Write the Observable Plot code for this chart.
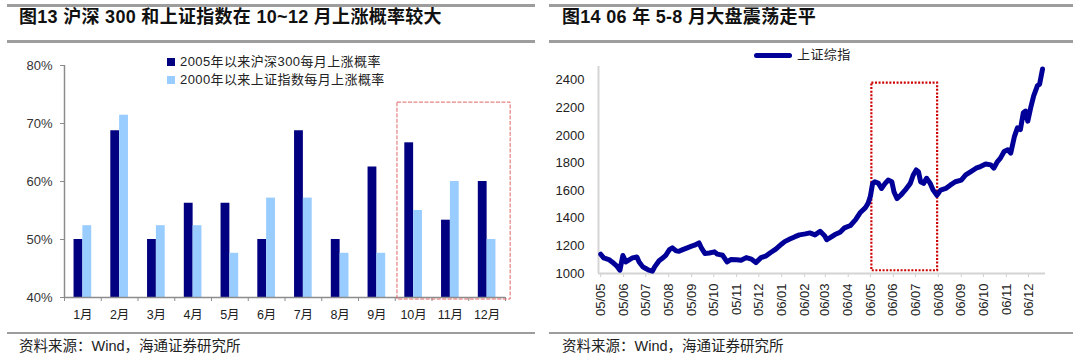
<!DOCTYPE html>
<html><head><meta charset="utf-8">
<script src="https://cdn.jsdelivr.net/npm/d3@7"></script>
<script src="https://cdn.jsdelivr.net/npm/@observablehq/plot@0.6"></script>
<style>
body{margin:0;background:#fff;width:1080px;height:355px;position:relative;overflow:hidden;font-family:"Liberation Sans","Noto Sans CJK SC",sans-serif;color:#222;}
.rule{position:absolute;background:#9d9d9d;}
.title{position:absolute;font-weight:bold;font-size:18px;letter-spacing:0.3px;line-height:20px;color:#111;white-space:nowrap;}
.src{position:absolute;font-size:14.5px;line-height:18px;color:#222;white-space:nowrap;}
.chart{position:absolute;}
.leg{position:absolute;font-size:13px;letter-spacing:0.4px;line-height:16px;color:#222;white-space:nowrap;font-family:"Liberation Sans","Noto Sans CJK SC",sans-serif;}
.sw{position:absolute;}
</style></head>
<body>
<div class="rule" style="left:7px;top:4px;width:528px;height:2.5px"></div>
<div class="title" style="left:19px;top:7px">图13 沪深 300 和上证指数在 10~12 月上涨概率较大</div>
<div class="rule" style="left:7px;top:40px;width:528px;height:2.5px"></div>
<div id="c1" class="chart" style="left:0;top:45px"></div>
<div class="sw" style="left:167px;top:58px;width:8px;height:8px;background:#000080"></div>
<div class="leg" style="left:180px;top:54px">2005年以来沪深300每月上涨概率</div>
<div class="sw" style="left:167px;top:76px;width:8px;height:8px;background:#99ccff"></div>
<div class="leg" style="left:180px;top:72px">2000年以来上证指数每月上涨概率</div>
<div class="rule" style="left:7px;top:332px;width:528px;height:2px"></div>
<div class="src" style="left:19px;top:337px">资料来源：Wind，海通证券研究所</div>

<div class="rule" style="left:549px;top:4px;width:524px;height:2.5px"></div>
<div class="title" style="left:562px;top:7px">图14 06 年 5-8 月大盘震荡走平</div>
<div class="rule" style="left:549px;top:40px;width:524px;height:2.5px"></div>
<div id="c2" class="chart" style="left:540px;top:45px"></div>
<div class="sw" style="left:754px;top:53px;width:38px;height:5px;border-radius:3px;background:#000099"></div>
<div class="leg" style="left:797px;top:47px">上证综指</div>
<div class="rule" style="left:549px;top:332px;width:524px;height:2px"></div>
<div class="src" style="left:562px;top:337px">资料来源：Wind，海通证券研究所</div>

<script>
// ---------- Chart 1 data ----------
const months = ["1月","2月","3月","4月","5月","6月","7月","8月","9月","10月","11月","12月"];
const hs300UpRate = [50, 68.75, 50, 56.25, 56.25, 50, 68.75, 50, 62.5, 66.67, 53.33, 60];
const szUpRate = [52.38, 71.43, 52.38, 52.38, 47.62, 57.14, 57.14, 47.62, 47.62, 55, 60, 50];
const pctTicks = [40, 50, 60, 70, 80];

// ---------- Chart 2 data ----------
const szDates = ["2005-05-01","2005-05-05","2005-05-12","2005-05-19","2005-05-23","2005-05-27","2005-05-31","2005-06-04","2005-06-09","2005-06-13","2005-06-19","2005-06-22","2005-06-27","2005-07-01","2005-07-05","2005-07-10","2005-07-13","2005-07-19","2005-07-23","2005-07-28","2005-08-02","2005-08-06","2005-08-11","2005-08-15","2005-08-20","2005-08-27","2005-09-01","2005-09-05","2005-09-11","2005-09-14","2005-09-19","2005-09-25","2005-10-02","2005-10-06","2005-10-13","2005-10-19","2005-10-24","2005-11-01","2005-11-07","2005-11-14","2005-11-21","2005-11-27","2005-12-04","2005-12-11","2005-12-17","2005-12-24","2006-01-01","2006-01-05","2006-01-12","2006-01-19","2006-01-25","2006-02-02","2006-02-08","2006-02-15","2006-02-22","2006-02-28","2006-03-03","2006-03-07","2006-03-14","2006-03-21","2006-03-27","2006-04-04","2006-04-11","2006-04-17","2006-04-24","2006-04-28","2006-05-01","2006-05-04","2006-05-07","2006-05-12","2006-05-16","2006-05-21","2006-05-25","2006-05-30","2006-06-02","2006-06-06","2006-06-11","2006-06-17","2006-06-24","2006-06-28","2006-07-02","2006-07-05","2006-07-08","2006-07-12","2006-07-16","2006-07-21","2006-07-25","2006-07-30","2006-08-04","2006-08-11","2006-08-17","2006-08-24","2006-09-01","2006-09-07","2006-09-14","2006-09-21","2006-09-27","2006-10-04","2006-10-11","2006-10-15","2006-10-20","2006-10-24","2006-10-29","2006-11-03","2006-11-07","2006-11-12","2006-11-16","2006-11-20","2006-11-24","2006-11-27","2006-11-30","2006-12-04","2006-12-08","2006-12-13","2006-12-16","2006-12-20"];
const szValues = [1140,1113,1101,1072,1053,1024,1130,1084,1101,1113,1120,1084,1048,1036,1024,1017,1048,1092,1108,1132,1173,1186,1164,1161,1173,1188,1198,1205,1222,1188,1145,1149,1157,1140,1132,1084,1101,1100,1096,1115,1104,1079,1115,1128,1152,1177,1214,1231,1250,1267,1280,1287,1294,1280,1306,1274,1245,1258,1282,1299,1331,1348,1390,1440,1475,1510,1560,1653,1665,1653,1616,1653,1677,1665,1591,1543,1567,1604,1653,1714,1750,1738,1665,1653,1690,1653,1604,1567,1604,1616,1640,1665,1677,1714,1738,1763,1775,1794,1787,1763,1811,1836,1884,1897,1873,1994,2055,2043,2165,2177,2104,2202,2287,2360,2372,2482];
const szTicks = [1000,1200,1400,1600,1800,2000,2200,2400];
const monthTickDates = ["2005-05","2005-06","2005-07","2005-08","2005-09","2005-10","2005-11","2005-12","2006-01","2006-02","2006-03","2006-04","2006-05","2006-06","2006-07","2006-08","2006-09","2006-10","2006-11","2006-12"];
const highlightPeriod = ["2006-05-03","2006-07-31"];

const font = '"Liberation Sans","Noto Sans CJK SC",sans-serif';

function greyAxes(svg, color) {
  d3.select(svg).selectAll("g[aria-label*='axis'] line, g[aria-label*='axis'] path").attr("stroke", color);
}

// ---------- Chart 1 ----------
const rows = months.map((m, i) => ({m, i: i + 1, a: hs300UpRate[i], b: szUpRate[i]}));
const bw = 0.24;
const bounds = d3.range(0.5, 13, 1);
const p1 = Plot.plot({
  width: 540, height: 285,
  marginLeft: 64, marginRight: 35, marginTop: 20, marginBottom: 33,
  style: {fontFamily: font, fontSize: "13px", color: "#333", background: "transparent", overflow: "visible"},
  x: {domain: [0.5, 12.5], ticks: bounds, tickFormat: () => "", tickSize: 4, label: null},
  y: {domain: [40, 80], ticks: pctTicks, tickFormat: d => d + "%", tickSize: 4, tickPadding: 8, label: null},
  marks: [
    Plot.rectY(rows, {x1: d => d.i - bw, x2: d => d.i, y1: 40, y2: "a", fill: "#000080"}),
    Plot.rectY(rows, {x1: d => d.i, x2: d => d.i + bw, y1: 40, y2: "b", fill: "#99ccff"}),
    Plot.ruleY([40], {stroke: "#8c8c8c", strokeWidth: 1.5}),
    Plot.ruleX([0.5], {stroke: "#8c8c8c", strokeWidth: 1.5}),
    Plot.rect([{x1: 9.56, x2: 12.64, y1: 39.65, y2: 73.6}], {x1: "x1", x2: "x2", y1: "y1", y2: "y2", fill: "none", stroke: "#e06666", strokeWidth: 1, strokeDasharray: "4,1.5"}),
    Plot.text(rows, {x: "i", y: 40, text: "m", dy: 17, fill: "#222", fontSize: 12.5})
  ]
});
greyAxes(p1, "#8c8c8c");
document.getElementById("c1").append(p1);

// ---------- Chart 2 ----------
const series = szDates.map((d, i) => ({date: new Date(d), value: szValues[i]}));
const p2 = Plot.plot({
  width: 540, height: 285,
  marginLeft: 58, marginRight: 35, marginTop: 21, marginBottom: 57,
  style: {fontFamily: font, fontSize: "13px", color: "#222", background: "transparent", overflow: "visible"},
  x: {type: "utc", domain: [new Date("2005-04-28"), new Date("2006-12-24")],
      ticks: monthTickDates.map(d => new Date(d + "-01")), tickFormat: d3.utcFormat("%y/%m"),
      tickRotate: -90, tickSize: 4, tickPadding: 6, label: null},
  y: {domain: [1000, 2500], ticks: szTicks, tickSize: 0, tickPadding: 14, tickFormat: d => String(d), label: null},
  marks: [
    Plot.ruleY([1000], {stroke: "#d4d4d4", strokeWidth: 2}),
    Plot.ruleX([new Date("2005-04-28")], {stroke: "#d4d4d4", strokeWidth: 2}),
    Plot.rect([{x1: new Date(highlightPeriod[0]), x2: new Date(highlightPeriod[1]), y1: 1020, y2: 2380}],
      {x1: "x1", x2: "x2", y1: "y1", y2: "y2", fill: "none", stroke: "#cc0000", strokeWidth: 2.2, strokeDasharray: "2,1.6"}),
    Plot.line(series, {x: "date", y: "value", stroke: "#000099", strokeWidth: 5, strokeLinejoin: "round", strokeLinecap: "round"})
  ]
});
greyAxes(p2, "#cfcfcf");
document.getElementById("c2").append(p2);
</script>
</body></html>
